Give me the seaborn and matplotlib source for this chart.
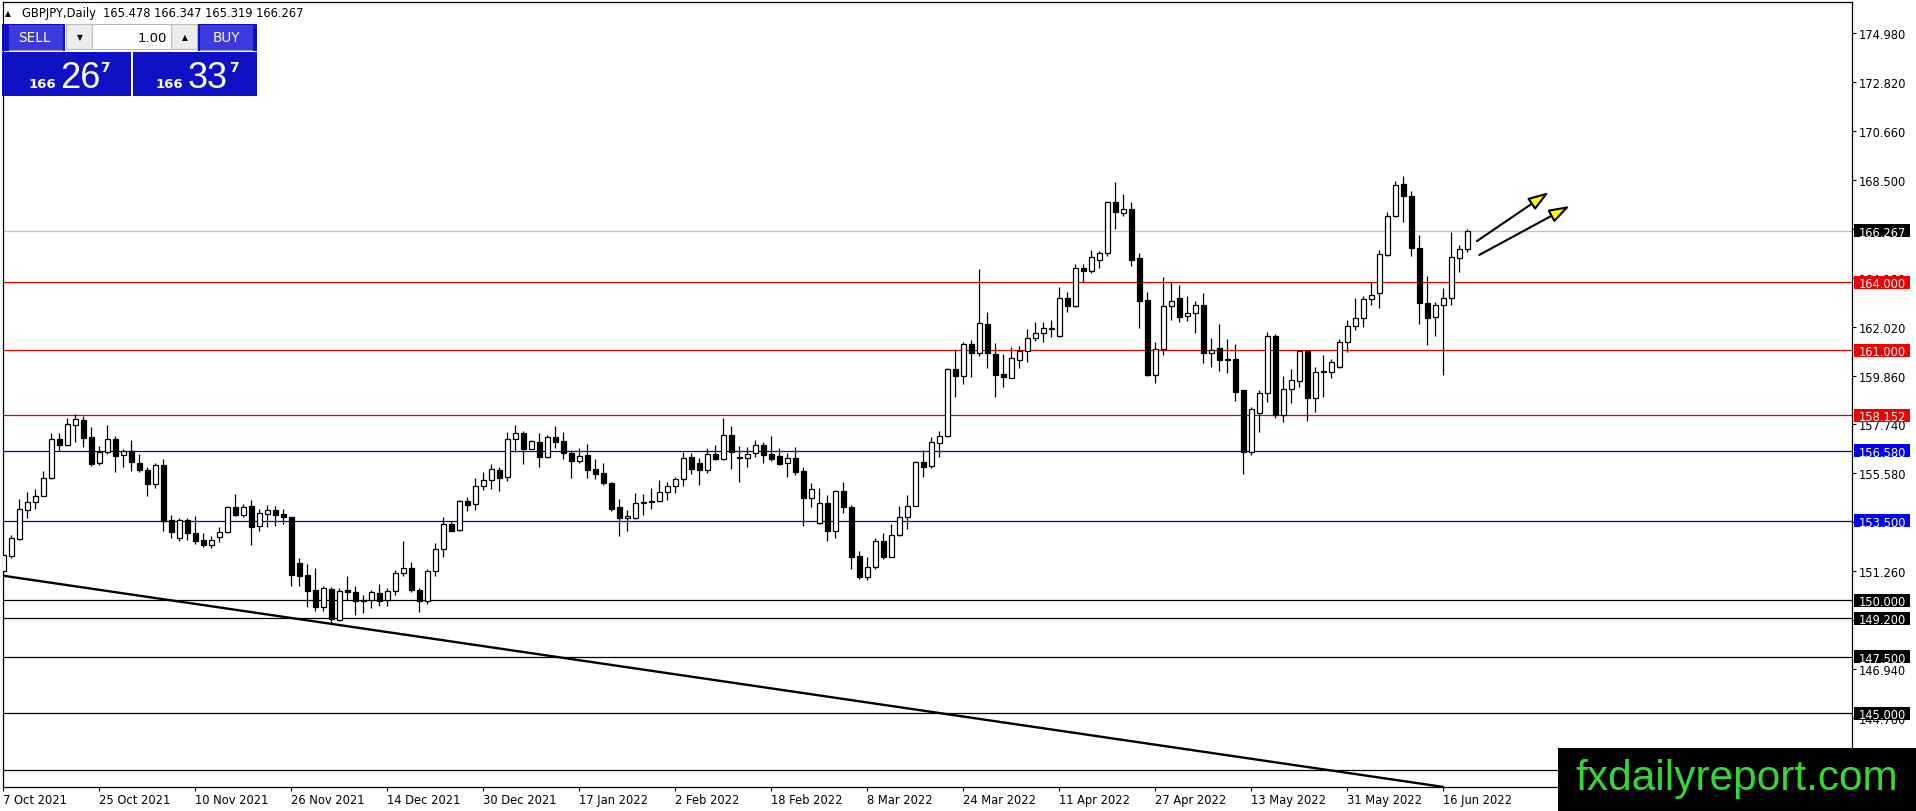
import numpy as np
import pandas as pd
import matplotlib
matplotlib.use("Agg")
import matplotlib.pyplot as plt
import seaborn as sns
from matplotlib.patches import Rectangle, FancyArrowPatch

# ---------------- data (GBPJPY daily) ----------------
opens = [
    151.26, 151.95, 152.69, 153.97, 154.31, 154.60, 155.36, 157.10, 156.85, 157.73,
    157.93, 157.18, 156.02, 156.51, 157.10, 156.38, 156.55, 156.04, 155.73, 155.10,
    155.95, 153.53, 152.74, 153.53, 152.94, 152.63, 152.43, 152.79, 153.01, 154.11,
    153.76, 154.13, 153.27, 153.80, 153.95, 153.79, 153.64, 151.62, 151.09, 150.44,
    149.68, 150.48, 149.12, 150.44, 150.34, 149.99, 150.01, 150.31, 149.99, 150.38,
    151.18, 151.40, 150.44, 149.97, 151.26, 152.25, 153.35, 153.10, 154.35, 154.23,
    155.01, 155.29, 155.73, 155.41, 157.08, 157.35, 156.67, 156.95, 156.32, 157.17,
    157.00, 156.47, 156.14, 156.39, 155.76, 155.58, 155.16, 154.08, 153.60, 153.63,
    154.31, 154.31, 154.35, 154.75, 155.04, 155.33, 156.29, 156.02, 155.74, 156.42,
    156.21, 157.27, 156.30, 156.24, 156.47, 156.85, 156.43, 156.35, 156.02, 156.24,
    155.67, 154.48, 153.38, 154.26, 153.05, 154.79, 154.08, 151.95, 151.03, 151.47,
    152.59, 151.91, 152.88, 153.64, 154.16, 156.07, 155.89, 156.91, 157.21, 160.17,
    159.89, 161.28, 160.87, 162.17, 160.83, 159.96, 159.80, 160.59, 160.99, 161.53,
    161.75, 161.96, 161.65, 163.30, 162.95, 164.62, 164.49, 165.00, 165.28, 167.53,
    167.07, 167.22, 165.07, 163.22, 159.93, 161.05, 162.96, 163.31, 162.50, 162.63,
    163.00, 160.87, 161.09, 160.62, 160.61, 159.26, 156.51, 158.23, 159.11, 161.62,
    158.17, 159.30, 159.64, 160.96, 158.89, 160.09, 160.04, 160.26, 161.36, 162.06,
    162.42, 163.25, 163.52, 165.21, 166.94, 168.34, 167.79, 165.50, 163.08, 162.46,
    163.00, 163.30, 165.06, 165.478]

highs = [
    152.03, 152.86, 154.45, 154.77, 154.89, 155.67, 157.36, 157.36, 158.02, 158.20,
    158.10, 157.61, 156.79, 157.70, 157.21, 156.66, 157.05, 156.43, 155.85, 156.02,
    156.21, 153.75, 153.61, 153.60, 153.69, 152.94, 152.83, 153.20, 154.16, 154.67,
    154.23, 154.41, 154.01, 154.19, 154.16, 154.01, 153.64, 151.85, 151.58, 151.40,
    150.63, 150.56, 150.54, 151.04, 150.63, 150.23, 150.44, 150.69, 150.54, 151.32,
    152.60, 151.66, 150.52, 151.37, 152.51, 153.64, 153.49, 154.41, 154.53, 155.36,
    155.63, 155.99, 155.87, 157.40, 157.71, 157.43, 157.07, 157.35, 157.27, 157.66,
    157.40, 156.61, 156.69, 156.88, 156.21, 156.02, 155.19, 154.45, 153.98, 154.70,
    154.67, 154.92, 155.29, 155.21, 155.41, 156.51, 156.48, 156.24, 156.69, 156.83,
    158.02, 157.66, 156.80, 156.76, 157.05, 156.95, 157.24, 156.70, 156.47, 156.76,
    155.85, 155.14, 154.92, 154.63, 154.85, 155.19, 154.20, 152.15, 151.91, 152.72,
    152.94, 153.35, 154.13, 154.63, 156.11, 156.62, 157.17, 157.43, 160.21, 161.06,
    161.36, 161.46, 164.59, 162.68, 161.33, 160.84, 161.14, 161.21, 161.95, 162.24,
    162.24, 162.34, 163.80, 163.56, 164.81, 164.81, 165.43, 165.40, 167.57, 168.44,
    167.90, 167.56, 165.29, 163.56, 161.38, 164.22, 164.00, 163.88, 163.41, 163.19,
    163.53, 161.53, 162.17, 161.50, 161.28, 159.26, 158.49, 159.27, 161.80, 161.72,
    159.89, 160.18, 160.97, 160.96, 160.26, 160.80, 160.62, 161.50, 162.34, 163.30,
    163.39, 164.03, 165.43, 167.09, 168.48, 168.70, 168.04, 166.09, 164.29, 163.15,
    163.75, 166.23, 165.64, 166.347]

lows = [
    151.23, 151.86, 152.66, 153.63, 154.01, 154.57, 155.33, 156.55, 156.80, 156.95,
    156.73, 155.89, 155.95, 156.42, 155.63, 155.85, 155.70, 155.65, 154.60, 154.92,
    153.05, 152.74, 152.61, 152.66, 152.46, 152.32, 152.29, 152.54, 152.95, 153.69,
    153.64, 152.43, 153.05, 153.20, 153.27, 153.34, 150.63, 150.63, 149.68, 149.53,
    149.53, 148.98, 149.09, 150.01, 149.35, 149.41, 149.63, 149.75, 149.72, 150.20,
    151.04, 150.34, 149.46, 149.82, 151.04, 151.88, 153.05, 153.05, 153.93, 153.98,
    154.86, 154.89, 154.82, 155.26, 156.51, 155.99, 156.66, 155.87, 156.27, 156.70,
    156.21, 155.38, 156.02, 155.38, 155.33, 155.08, 153.93, 152.83, 153.05, 153.57,
    153.76, 154.01, 154.31, 154.42, 154.72, 155.01, 155.55, 155.07, 155.60, 156.17,
    156.17, 155.77, 155.21, 155.87, 156.29, 156.02, 156.14, 155.96, 155.43, 155.52,
    153.27, 154.08, 153.35, 152.58, 152.73, 153.82, 151.37, 150.93, 150.88, 151.37,
    151.81, 151.88, 152.83, 153.13, 154.13, 155.41, 155.80, 156.32, 157.20, 158.96,
    159.52, 159.81, 160.74, 160.21, 158.96, 159.37, 159.77, 160.21, 160.48, 161.43,
    161.36, 161.60, 161.60, 162.71, 162.90, 164.00, 164.40, 164.62, 165.18, 166.35,
    166.94, 164.74, 161.99, 159.89, 159.56, 160.81, 162.35, 162.24, 162.31, 161.75,
    160.43, 160.26, 160.11, 159.99, 158.78, 155.55, 156.40, 157.39, 158.74, 158.01,
    157.83, 158.67, 159.37, 157.90, 158.30, 158.96, 159.77, 160.23, 160.92, 161.91,
    162.05, 163.02, 162.86, 165.18, 166.87, 166.65, 165.15, 162.17, 161.25, 161.65,
    159.93, 163.00, 164.44, 165.319]

closes = [
    151.98, 152.72, 154.00, 154.31, 154.60, 155.36, 157.08, 156.85, 157.74, 157.98,
    157.13, 156.01, 156.51, 157.08, 156.36, 156.55, 156.07, 155.71, 155.10, 155.95,
    153.47, 152.98, 153.53, 152.94, 152.61, 152.43, 152.63, 153.01, 154.11, 153.76,
    154.12, 153.20, 153.82, 153.95, 153.76, 153.64, 151.11, 151.07, 150.41, 149.68,
    150.52, 149.16, 150.41, 150.34, 149.97, 149.95, 150.37, 149.97, 150.38, 151.18,
    151.40, 150.45, 149.97, 151.26, 152.25, 153.35, 153.05, 154.35, 154.20, 155.01,
    155.28, 155.76, 155.38, 157.08, 157.35, 156.66, 157.00, 156.32, 157.17, 156.98,
    156.47, 156.14, 156.36, 155.74, 155.57, 155.14, 154.01, 153.60, 153.70, 154.26,
    154.26, 154.36, 154.75, 155.04, 155.33, 156.27, 155.77, 155.74, 156.42, 156.21,
    157.27, 156.51, 156.26, 156.43, 156.85, 156.40, 156.23, 155.99, 156.24, 155.65,
    154.48, 154.88, 154.26, 153.05, 154.79, 154.08, 151.91, 151.03, 151.47, 152.59,
    151.88, 152.88, 153.64, 154.16, 156.07, 155.87, 156.95, 157.21, 160.17, 159.89,
    161.28, 160.87, 162.20, 160.87, 159.93, 159.84, 160.65, 160.99, 161.53, 161.75,
    161.97, 161.99, 163.30, 162.95, 164.62, 164.49, 165.11, 165.28, 167.53, 167.09,
    167.22, 165.00, 163.19, 159.93, 161.05, 162.96, 163.17, 162.49, 162.63, 163.00,
    160.87, 161.02, 160.59, 160.59, 159.18, 156.51, 158.42, 159.11, 161.62, 158.15,
    159.30, 159.70, 160.96, 158.89, 160.04, 160.04, 160.48, 161.36, 162.06, 162.42,
    163.27, 163.43, 165.24, 166.91, 168.29, 167.79, 165.50, 163.08, 162.43, 163.00,
    163.30, 165.11, 165.47, 166.267]

date_labels = ["7 Oct 2021", "25 Oct 2021", "10 Nov 2021", "26 Nov 2021",
               "14 Dec 2021", "30 Dec 2021", "17 Jan 2022", "2 Feb 2022",
               "18 Feb 2022", "8 Mar 2022", "24 Mar 2022", "11 Apr 2022",
               "27 Apr 2022", "13 May 2022", "31 May 2022", "16 Jun 2022"]
bars_per_label = 12

price_ticks = [174.980, 172.820, 170.660, 168.500, 166.340, 164.180, 162.020,
               159.860, 157.740, 155.580, 153.420, 151.260, 149.100, 146.940,
               144.780, 142.620]
# tick labels fully covered by level boxes / watermark in the reference
covered_ticks = [166.340, 153.420, 149.100, 142.620]

red_levels = [164.000, 161.000, 158.152]
blue_levels = [156.580, 153.500]
black_levels = [150.000, 149.200, 147.500, 145.000, 142.500]
current_price = 166.267

trend_x = [-0.4, 180.0]
trend_y = [151.09, 141.76]

arrow1 = [(184.2, 165.82), (193.2, 167.98)]
arrow2 = [(184.5, 165.21), (195.8, 167.37)]

header = "GBPJPY,Daily  165.478 166.347 165.319 166.267"

# ---------------- figure ----------------
W, H = 1916, 812
sns.set_theme(style="white")
plt.rcParams["font.family"] = ["DejaVu Sans"]

fig = plt.figure(figsize=(W / 100, H / 100), dpi=100)
fig.patch.set_facecolor("white")

L, R, T, B = 2.7, 1852.0, 2.7, 788.3
ax = fig.add_axes([L / W, 1 - B / H, (R - L) / W, (B - T) / H])
ax.set_facecolor("white")

df = pd.DataFrame({"o": opens, "h": highs, "l": lows, "c": closes})
df["i"] = np.arange(len(df))
up = df["c"] >= df["o"]

# horizontal levels
for v in red_levels:
    ax.axhline(v, color="#d80000", lw=0.9, zorder=1)
for v in blue_levels:
    ax.axhline(v, color="#0000c0", lw=0.9, zorder=1)
for v in black_levels:
    ax.axhline(v, color="black", lw=0.9, zorder=1)
ax.axhline(current_price, color="#c0c0c0", lw=0.9, zorder=1)

# trend line
sns.lineplot(x=trend_x, y=trend_y, ax=ax, color="black", lw=1.7,
             legend=False, zorder=1.5)

# candles
ax.vlines(df["i"], df["l"], df["h"], color="black", lw=0.9, zorder=2)
body_lo = np.minimum(df["o"], df["c"])
body_h = np.maximum(np.abs(df["c"] - df["o"]), 0.012)
ax.bar(df["i"], body_h, bottom=body_lo, width=0.56,
       color=np.where(up, "white", "black"), edgecolor="black", lw=0.9,
       zorder=3)

# arrows
for (p0, p1) in (arrow1, arrow2):
    ap = FancyArrowPatch(p0, p1, arrowstyle="-|>,head_length=1.25,head_width=0.42",
                         mutation_scale=10, facecolor="#ffff00", edgecolor="black",
                         lw=1.5, shrinkA=0, shrinkB=0, zorder=4)
    ax.add_patch(ap)

ax.set_xlim((L - 3.3) / 8.0, (R - 3.3) / 8.0)
ax.set_ylim(141.744, 176.373)

# axes styling
for s in ax.spines.values():
    s.set_color("black")
    s.set_linewidth(0.9)
ax.yaxis.tick_right()
ax.set_yticks(price_ticks)
ax.set_yticklabels(["" if v in covered_ticks else f"{v:.3f}" for v in price_ticks])
ax.tick_params(axis="y", right=True, left=False, length=2.6, width=0.8,
               pad=2.4, labelsize=8.3, colors="black", direction="out")
xt = list(range(0, len(df), bars_per_label))
ax.set_xticks(xt)
ax.set_xticklabels(date_labels[:len(xt)], ha="left")
ax.tick_params(axis="x", bottom=True, length=2.6, width=0.8, pad=1.6,
               labelsize=8.3, colors="black", direction="out")
ax.grid(False)

# price labels on the right axis
tr = ax.get_yaxis_transform()
box_x0 = (1854 - L) / (R - L)
box_w = 56 / (R - L)
box_h = 13 * 0.044082
txt_x = (1858.5 - L) / (R - L)
def level_box(v, col):
    ax.add_patch(Rectangle((box_x0, v - box_h / 2), box_w, box_h, transform=tr,
                           facecolor=col, edgecolor="none", clip_on=False, zorder=6))
    ax.text(txt_x, v, f"{v:.3f}", transform=tr, color="white", fontsize=8.3,
            ha="left", va="center_baseline", clip_on=False, zorder=7)
for v in red_levels:
    level_box(v, "#f00000")
for v in blue_levels:
    level_box(v, "#0000f0")
for v in black_levels:
    level_box(v, "black")
level_box(current_price, "black")

# ---------------- overlay: header, trade panel, watermark ----------------
def frect(x0, y0, x1, y1, **kw):
    r = Rectangle((x0 / W, 1 - y1 / H), (x1 - x0) / W, (y1 - y0) / H,
                  transform=fig.transFigure, **kw)
    fig.add_artist(r)

def ftext(x, y, s, **kw):
    fig.text(x / W, 1 - y / H, s, **kw)

ftext(5, 13.5, "\u25b2", fontsize=5.5, va="center", ha="left", color="black")
ftext(22, 13.5, header, fontsize=8.3, va="center", ha="left", color="black")

dark = "#1010c4"
light = "#3a3ae0"
frect(2, 25, 65, 52, facecolor=dark, edgecolor="none", zorder=20)
frect(2, 52.5, 131, 97, facecolor=dark, edgecolor="none", zorder=20)
frect(198, 25, 257, 52, facecolor=dark, edgecolor="none", zorder=20)
frect(133, 52.5, 257, 97, facecolor=dark, edgecolor="none", zorder=20)
frect(9, 26, 63, 50.5, facecolor=light, edgecolor="none", zorder=21)
frect(200, 26, 253, 50.5, facecolor=light, edgecolor="none", zorder=21)
frect(9, 50.5, 63, 52, facecolor="#9a9af2", edgecolor="none", zorder=21)
frect(200, 50.5, 253, 52, facecolor="#9a9af2", edgecolor="none", zorder=21)
# spinner
frect(66, 25, 198, 51, facecolor="#b8b8b8", edgecolor="none", zorder=21)
frect(67, 26, 92, 50, facecolor="#ececec", edgecolor="none", zorder=22)
frect(93, 26, 171, 50, facecolor="white", edgecolor="none", zorder=22)
frect(172, 26, 197, 50, facecolor="#ececec", edgecolor="none", zorder=22)
ftext(79.5, 38, "\u25bc", fontsize=5.5, ha="center", va="center", color="black", zorder=23)
ftext(184.5, 38, "\u25b2", fontsize=5.5, ha="center", va="center", color="black", zorder=23)
ftext(167, 38, "1.00", fontsize=9.5, ha="right", va="center", color="black", zorder=23)
ftext(34, 38.5, "SELL", fontsize=9.8, ha="center", va="center", color="white", zorder=23)
ftext(226, 38.5, "BUY", fontsize=9.8, ha="center", va="center", color="white", zorder=23)
for x166, xbig, xsup, big in ((29, 60, 100, "26"), (156, 188, 229, "33")):
    ftext(x166, 88, "166", fontsize=9.5, fontweight="bold", ha="left", va="baseline",
          color="white", zorder=23)
    ftext(xbig, 88, big, fontsize=26, family="Liberation Sans", ha="left",
          va="baseline", color="white", zorder=23)
    ftext(xsup, 72, "7", fontsize=10, fontweight="bold", ha="left", va="baseline",
          color="white", zorder=23)

# watermark
frect(1558, 749, 1916, 812, facecolor="black", edgecolor="none", zorder=30)
ftext(1737, 790, "fxdailyreport.com", fontsize=30.5, family="Liberation Sans",
      ha="center", va="baseline", color="#35d635", zorder=31)

fig.savefig("out.png", dpi=100)
